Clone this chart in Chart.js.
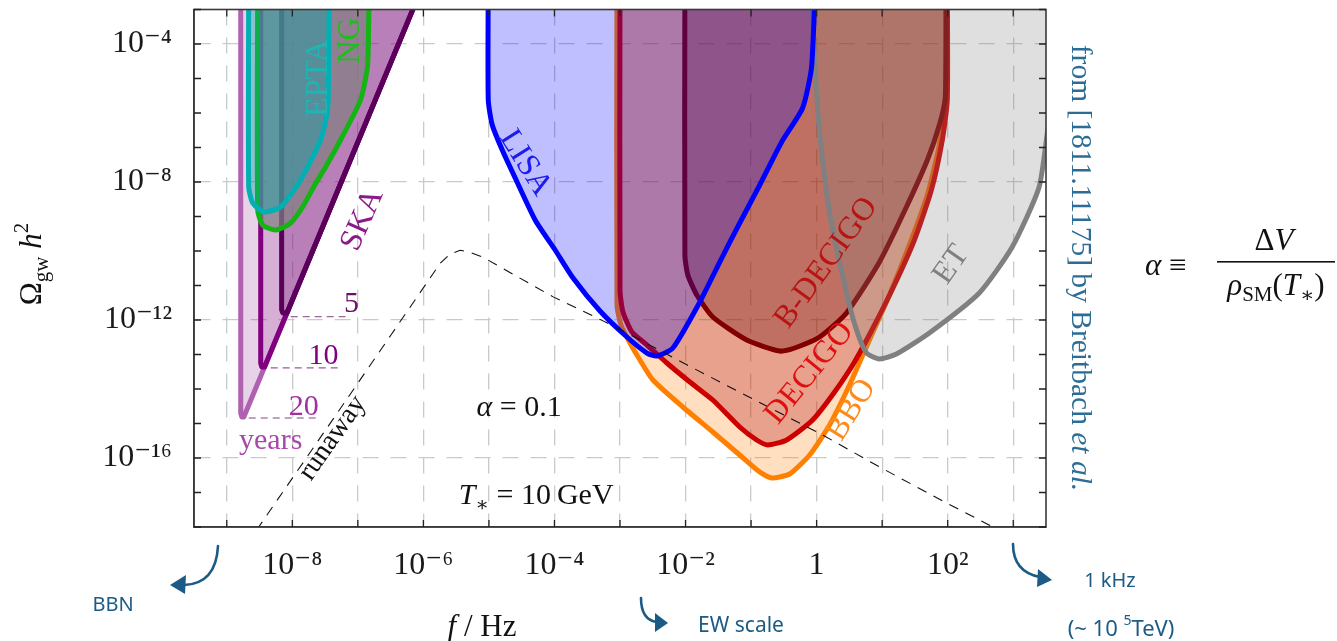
<!DOCTYPE html>
<html>
<head>
<meta charset="utf-8">
<script src="https://cdn.jsdelivr.net/npm/chart.js@4.4.1/dist/chart.umd.min.js"></script>
<style>
html,body{margin:0;padding:0;background:#ffffff;}
#wrap{position:relative;width:1337px;height:641px;}
</style>
</head>
<body>
<div id="wrap"><canvas id="c" width="1337" height="641"></canvas></div>
<script>
// ---------- axis ranges and ticks (log10 exponents) ----------
const xRangeExp = [-9.5, 3.5];
const yRangeExp = [-18, -3];
const xTickExp = [-9,-8,-7,-6,-5,-4,-3,-2,-1,0,1,2,3];
const xLabelExp = [-8,-6,-4,-2,0,2];
const yTickExp = [-18,-17,-16,-15,-14,-13,-12,-11,-10,-9,-8,-7,-6,-5,-4,-3];
const yLabelExp = [-16,-12,-8,-4];

// ---------- sensitivity regions: [log10(f/Hz), log10(Omega h^2)] ----------
const ska20Years = [[-8.787,-2],[-8.787,-14.70],[-8.77,-14.81],[-8.74,-14.81],[-5.943,-2]];
const ska10Years = [[-8.482,-2],[-8.482,-13.25],[-8.465,-13.362],[-8.424,-13.362],[-5.943,-2]];
const ska5Years  = [[-8.163,-2],[-8.163,-11.70],[-8.145,-11.797],[-8.082,-11.797],[-5.943,-2]];
const nanograv = [[-8.528,-2],[-8.528,-8.812],[-8.452,-9.246],[-8.254,-9.391],[-8.025,-9.188],[-7.843,-8.725],[-7.675,-8.145],[-7.492,-7.565],[-7.264,-6.783],[-6.959,-5.623],[-6.853,-4.667],[-6.837,-3.681],[-6.822,-2]];
const epta = [[-8.665,-2],[-8.665,-8.145],[-8.604,-8.609],[-8.437,-8.870],[-8.178,-8.725],[-7.873,-7.942],[-7.569,-6.783],[-7.462,-5.913],[-7.447,-4.667],[-7.432,-2]];
const lisa = [[-5.010,-2],[-5.010,-5.623],[-4.949,-6.348],[-4.797,-7.072],[-4.599,-7.884],[-4.295,-9.101],[-3.990,-9.971],[-3.716,-10.783],[-3.305,-11.739],[-2.894,-12.493],[-2.589,-12.957],[-2.437,-13.043],[-2.193,-12.812],[-1.782,-11.478],[-1.478,-10.319],[-1.173,-9.188],[-0.868,-8.087],[-0.533,-6.841],[-0.214,-5.855],[-0.077,-4.667],[-0.016,-2]];
const decigo = [[-3.000,-2],[-3.000,-11.130],[-2.955,-11.768],[-2.818,-12.348],[-2.589,-12.725],[-2.285,-13.246],[-1.934,-13.797],[-1.584,-14.319],[-1.173,-15.101],[-0.914,-15.478],[-0.747,-15.623],[-0.457,-15.478],[-0.061,-14.899],[0.274,-14.087],[0.578,-13.217],[0.883,-12.145],[1.187,-10.986],[1.492,-9.681],[1.751,-8.232],[1.918,-6.783],[1.994,-5.623],[1.994,-2]];
const bbo = [[-3.046,-2],[-3.046,-11.565],[-2.985,-12.145],[-2.848,-12.667],[-2.696,-13.159],[-2.498,-13.739],[-2.041,-14.522],[-1.584,-15.246],[-1.173,-15.913],[-0.868,-16.406],[-0.686,-16.580],[-0.412,-16.464],[-0.107,-15.913],[0.197,-15.043],[0.502,-13.884],[0.807,-12.580],[1.111,-11.275],[1.416,-9.826],[1.690,-8.377],[1.873,-6.928],[1.964,-5.623],[1.964,-2]];
const bDecigo = [[-2.010,-2],[-2.010,-10.116],[-1.965,-10.696],[-1.828,-11.275],[-1.584,-11.913],[-1.066,-12.580],[-0.564,-12.899],[-0.335,-12.812],[0.045,-12.493],[0.456,-11.797],[0.959,-10.319],[1.370,-8.725],[1.690,-7.362],[1.873,-6.348],[1.964,-5.536],[1.979,-2]];
const einsteinTelescope = [[-0.077,-2],[-0.046,-3.884],[0.045,-6.580],[0.197,-8.899],[0.456,-11.217],[0.609,-12.290],[0.761,-12.957],[0.959,-13.130],[1.218,-12.986],[1.720,-12.377],[2.482,-11.217],[2.984,-9.884],[3.395,-8.145],[3.548,-6.203],[3.852,-3.304],[3.9,-2]];

// ---------- signal spectrum (alpha = 0.1, T* = 10 GeV), runaway ----------
const runawaySpectrum = [[-8.70,-18.52],[-8.513,-18.0],[-7.5,-15.21],[-6.5,-12.45],[-5.9,-10.79],[-5.741,-10.35],[-5.6,-10.10],[-5.44,-9.98],[-5.30,-10.03],[-5.10,-10.17],[-4.02,-11.33],[-3.35,-11.94],[-2.89,-12.38],[-1.98,-13.30],[0.09,-15.33],[0.96,-16.26],[1.98,-17.30],[2.63,-17.94],[2.80,-18.12]];

// ---------- SKA observation-time markers ----------
const ska5Marker  = [[-8.025,-11.90],[-7.188,-11.90]];
const ska10Marker = [[-8.330,-13.39],[-7.294,-13.39]];
const ska20Marker = [[-8.665,-14.84],[-7.599,-14.84]];

const SERIF = "'Liberation Serif','DejaVu Serif',serif";
const HAND = "'Noto Sans','Open Sans',sans-serif";
const SUP = {'-':'\u207B','0':'\u2070','1':'\u00B9','2':'\u00B2','3':'\u00B3','4':'\u2074','5':'\u2075','6':'\u2076','7':'\u2077','8':'\u2078','9':'\u2079'};
function powLabel(e){ if(e===0) return '1'; return '10' + String(e).split('').map(c=>SUP[c]).join(''); }
function toPts(arr){ return arr.map(p=>({x: Math.pow(10,p[0]), y: Math.pow(10,p[1])})); }
function expOf(v){ return Math.round(Math.log10(v)); }

function region(data, border, fill, tension){
  return {data: toPts(data), borderColor: border, backgroundColor: fill, borderWidth: 5,
    fill: 'shape', pointRadius: 0, tension: tension, borderJoinStyle: 'round', borderCapStyle: 'round', clip: 0};
}
function dashed(data, color, width, dash){
  return {data: toPts(data), borderColor: color, borderWidth: width, borderDash: dash, fill: false, pointRadius: 0, tension: 0, clip: 0};
}

const datasetsBottomToTop = [
  region(ska20Years, '#b060b0', 'rgba(140,30,140,0.20)', 0),
  region(ska10Years, '#800080', 'rgba(140,30,140,0.20)', 0),
  region(ska5Years, '#5a005a', 'rgba(120,20,120,0.30)', 0),
  region(nanograv, '#14b414', 'rgba(128,128,128,0.70)', 0.2),
  region(epta, '#00b0b4', 'rgba(0,165,165,0.40)', 0.2),
  region(bbo, '#ff8000', 'rgba(255,128,0,0.25)', 0.2),
  region(decigo, '#cc0000', 'rgba(175,15,20,0.30)', 0.2),
  region(bDecigo, '#800000', 'rgba(100,0,0,0.30)', 0.2),
  region(einsteinTelescope, '#808080', 'rgba(128,128,128,0.25)', 0.2),
  region(lisa, '#0000ff', 'rgba(0,0,255,0.25)', 0.2),
  dashed(runawaySpectrum, '#111111', 1.1, [10,8]),
  dashed(ska5Marker, '#9a6a9a', 1.3, [7,5]),
  dashed(ska10Marker, '#9a5a9a', 1.3, [7,5]),
  dashed(ska20Marker, '#b080b0', 1.3, [7,5])
];
const N = datasetsBottomToTop.length;
datasetsBottomToTop.forEach((d,i)=>{ d.order = N - i; });

function rotText(ctx, text, x, y, deg, font, color){
  ctx.save(); ctx.translate(x,y); ctx.rotate(deg*Math.PI/180);
  ctx.font = font; ctx.fillStyle = color; ctx.textAlign='center'; ctx.textBaseline='middle';
  ctx.fillText(text,0,0); ctx.restore();
}
function rich(ctx, parts, x, y, align){
  let w = 0; parts.forEach(p=>{ ctx.font=p[1]; w += ctx.measureText(p[0]).width; });
  let cx = align==='center' ? x-w/2 : (align==='right' ? x-w : x);
  ctx.textAlign='left'; ctx.textBaseline='alphabetic';
  parts.forEach(p=>{ ctx.font=p[1]; ctx.fillText(p[0], cx, y+(p[2]||0)); cx += ctx.measureText(p[0]).width; });
  return w;
}

const annotPlugin = {
  id: 'annot',
  afterDatasetsDraw(chart){
    const ctx = chart.ctx, xs = chart.scales.x, ys = chart.scales.y, a = chart.chartArea;
    const P = (lx,ly)=>[xs.getPixelForValue(Math.pow(10,lx)), ys.getPixelForValue(Math.pow(10,ly))];
    ctx.save();
    ctx.beginPath(); ctx.rect(a.left,a.top,a.right-a.left,a.bottom-a.top); ctx.clip();
    const F = (s)=> s+'px '+SERIF;
    let p;
    p=P(-7.599,-4.99); rotText(ctx,'EPTA',p[0],p[1],-90,F(32),'#1fb5b5');
    p=P(-7.112,-3.90); rotText(ctx,'NG',p[0],p[1],-90,F(32),'#22bb22');
    p=P(-6.929,-9.10); rotText(ctx,'SKA',p[0],p[1],-66,F(32),'#8a1a8a');
    p=P(-7.097,-11.54); rotText(ctx,'5',p[0],p[1],0,F(30),'#6a106a');
    p=P(-7.523,-13.04); rotText(ctx,'10',p[0],p[1],0,F(30),'#800080');
    p=P(-7.827,-14.52); rotText(ctx,'20',p[0],p[1],0,F(30),'#a030a0');
    p=P(-8.330,-15.51); rotText(ctx,'years',p[0],p[1],0,F(30),'#a848a8');
    p=P(-7.386,-15.42); rotText(ctx,'runaway',p[0],p[1],-55,F(28),'#111');
    p=P(-4.447,-7.45); rotText(ctx,'LISA',p[0],p[1],58,F(32),'#1c1cf0');
    p=P(0.150,-10.35); rotText(ctx,'B-DECIGO',p[0],p[1],-54,F(32),'#b81414');
    p=P(-0.107,-13.54); rotText(ctx,'DECIGO',p[0],p[1],-51,F(32),'#e01010');
    p=P(0.533,-14.61); rotText(ctx,'BBO',p[0],p[1],-58,F(32),'#ff8a1c');
    p=P(2.055,-10.40); rotText(ctx,'ET',p[0],p[1],-55,F(32),'#808080');
    ctx.fillStyle='#111';
    p=P(-4.538,-14.49);
    rich(ctx,[['\u03B1','italic 30px '+SERIF],[' = 0.1','30px '+SERIF]],p[0],p[1]+10,'center');
    p=P(-4.279,-17.04);
    rich(ctx,[['T','italic 30px '+SERIF],['\u2217','20px '+SERIF,7],[' = 10\u2009GeV','30px '+SERIF]],p[0],p[1]+10,'center');
    ctx.restore();
  },
  afterDraw(chart){
    const ctx = chart.ctx, xs = chart.scales.x, ys = chart.scales.y, a = chart.chartArea;
    ctx.save();
    ctx.strokeStyle='#3a3a3a'; ctx.lineWidth=1.6;
    ctx.strokeRect(a.left, a.top, a.right-a.left, a.bottom-a.top);
    ctx.lineWidth=1.3; ctx.strokeStyle='#222';
    ctx.beginPath();
    xTickExp.forEach(e=>{ const x = xs.getPixelForValue(Math.pow(10,e));
      ctx.moveTo(x,a.bottom); ctx.lineTo(x,a.bottom-7); ctx.moveTo(x,a.top); ctx.lineTo(x,a.top+7); });
    yTickExp.forEach(e=>{ const y = ys.getPixelForValue(Math.pow(10,e));
      ctx.moveTo(a.left,y); ctx.lineTo(a.left+7,y); ctx.moveTo(a.right,y); ctx.lineTo(a.right-7,y); });
    ctx.stroke();

    ctx.fillStyle='#111';
    ctx.save(); ctx.translate(31, 264); ctx.rotate(-Math.PI/2);
    rich(ctx,[['\u03A9','31px '+SERIF],['gw','21px '+SERIF,7],[' ','31px '+SERIF],['h','italic 31px '+SERIF],['2','21px '+SERIF,-13]],0,10,'center');
    ctx.restore();
    rich(ctx,[['f','italic 31px '+SERIF],[' / Hz','31px '+SERIF]],482,636,'center');

    ctx.save(); ctx.translate(1082, 268); ctx.rotate(Math.PI/2);
    ctx.fillStyle='#2c6d95';
    rich(ctx,[['from [1811.11175] by Breitbach ','29.5px '+SERIF],['et al.','italic 29.5px '+SERIF]],0,10,'center');
    ctx.restore();

    ctx.fillStyle='#111';
    rich(ctx,[['\u03B1','italic 31px '+SERIF],[' \u2261 ','31px '+SERIF]],1145,275,'left');
    ctx.fillRect(1217, 261, 118, 1.6);
    rich(ctx,[['\u0394','31px '+SERIF],['V','italic 31px '+SERIF]],1274,250,'center');
    rich(ctx,[['\u03C1','italic 31px '+SERIF],['SM','21px '+SERIF,6],['(','31px '+SERIF],['T','italic 31px '+SERIF],['\u2217','21px '+SERIF,7],[')','31px '+SERIF]],1276,295,'center');

    const hc='#1b5b85';
    ctx.strokeStyle=hc; ctx.fillStyle=hc; ctx.lineWidth=2.6; ctx.lineCap='round';
    ctx.beginPath(); ctx.moveTo(218,546); ctx.quadraticCurveTo(216,584,184,585); ctx.stroke();
    ctx.beginPath(); ctx.moveTo(170,585); ctx.lineTo(186,575); ctx.lineTo(185,594); ctx.closePath(); ctx.fill();
    ctx.beginPath(); ctx.moveTo(641,598); ctx.quadraticCurveTo(641,620,657,622); ctx.stroke();
    ctx.beginPath(); ctx.moveTo(668,623); ctx.lineTo(655,613); ctx.lineTo(655,632); ctx.closePath(); ctx.fill();
    ctx.beginPath(); ctx.moveTo(1013,544); ctx.quadraticCurveTo(1013,572,1040,577); ctx.stroke();
    ctx.beginPath(); ctx.moveTo(1052,580); ctx.lineTo(1038,569); ctx.lineTo(1037,587); ctx.closePath(); ctx.fill();
    ctx.textBaseline='middle'; ctx.textAlign='center';
    ctx.font='20px '+HAND; ctx.fillText('BBN',113,605);
    ctx.font='21px '+HAND; ctx.fillText('EW scale',741,626);
    ctx.font='20px '+HAND; ctx.fillText('1 kHz',1110,581);
    ctx.textBaseline='alphabetic';
    rich(ctx,[['(~ 10 ','22px '+HAND],['5','14px '+HAND,-11],['TeV)','22px '+HAND]],1121,636,'center');
    ctx.restore();
  }
};

new Chart(document.getElementById('c'), {
  type: 'line',
  data: { datasets: datasetsBottomToTop },
  options: {
    responsive: false, animation: false, devicePixelRatio: 1,
    layout: { padding: { left: 0, right: 291, top: 9.5, bottom: 0 } },
    plugins: { legend: { display: false }, tooltip: { enabled: false } },
    scales: {
      x: {
        type: 'logarithmic', position: 'bottom',
        min: Math.pow(10, xRangeExp[0]), max: Math.pow(10, xRangeExp[1]),
        afterBuildTicks: (s)=>{ s.ticks = xTickExp.map(e=>({value: Math.pow(10,e)})); },
        afterFit: (s)=>{ s.height = 114; s.paddingLeft = 0; s.paddingRight = 0; },
        ticks: { autoSkip: false, maxRotation: 0, minRotation: 0, padding: 19, color: '#1a1a1a',
          font: { family: SERIF, size: 32 },
          callback: (v)=>{ const e = expOf(v); return xLabelExp.includes(e) ? powLabel(e) : ''; } },
        grid: { color: '#c9c9c9', lineWidth: 1.3, drawTicks: false },
        border: { display: true, color: '#3a3a3a', width: 1.6, dash: [16,12] }
      },
      y: {
        type: 'logarithmic', position: 'left',
        min: Math.pow(10, yRangeExp[0]), max: Math.pow(10, yRangeExp[1]),
        afterBuildTicks: (s)=>{ s.ticks = yTickExp.map(e=>({value: Math.pow(10,e)})); },
        afterFit: (s)=>{ s.width = 194; s.paddingTop = 0; s.paddingBottom = 0; },
        ticks: { autoSkip: false, padding: 22, color: '#1a1a1a',
          font: { family: SERIF, size: 32 },
          callback: (v)=>{ const e = expOf(v); return yLabelExp.includes(e) ? powLabel(e) : ''; } },
        grid: { drawTicks: false, lineWidth: 1.3,
          color: (c)=> (c.tick && yLabelExp.includes(expOf(c.tick.value))) ? '#c9c9c9' : 'rgba(0,0,0,0)' },
        border: { display: true, color: '#3a3a3a', width: 1.6, dash: [16,12] }
      }
    }
  },
  plugins: [annotPlugin]
});
</script>
</body>
</html>
